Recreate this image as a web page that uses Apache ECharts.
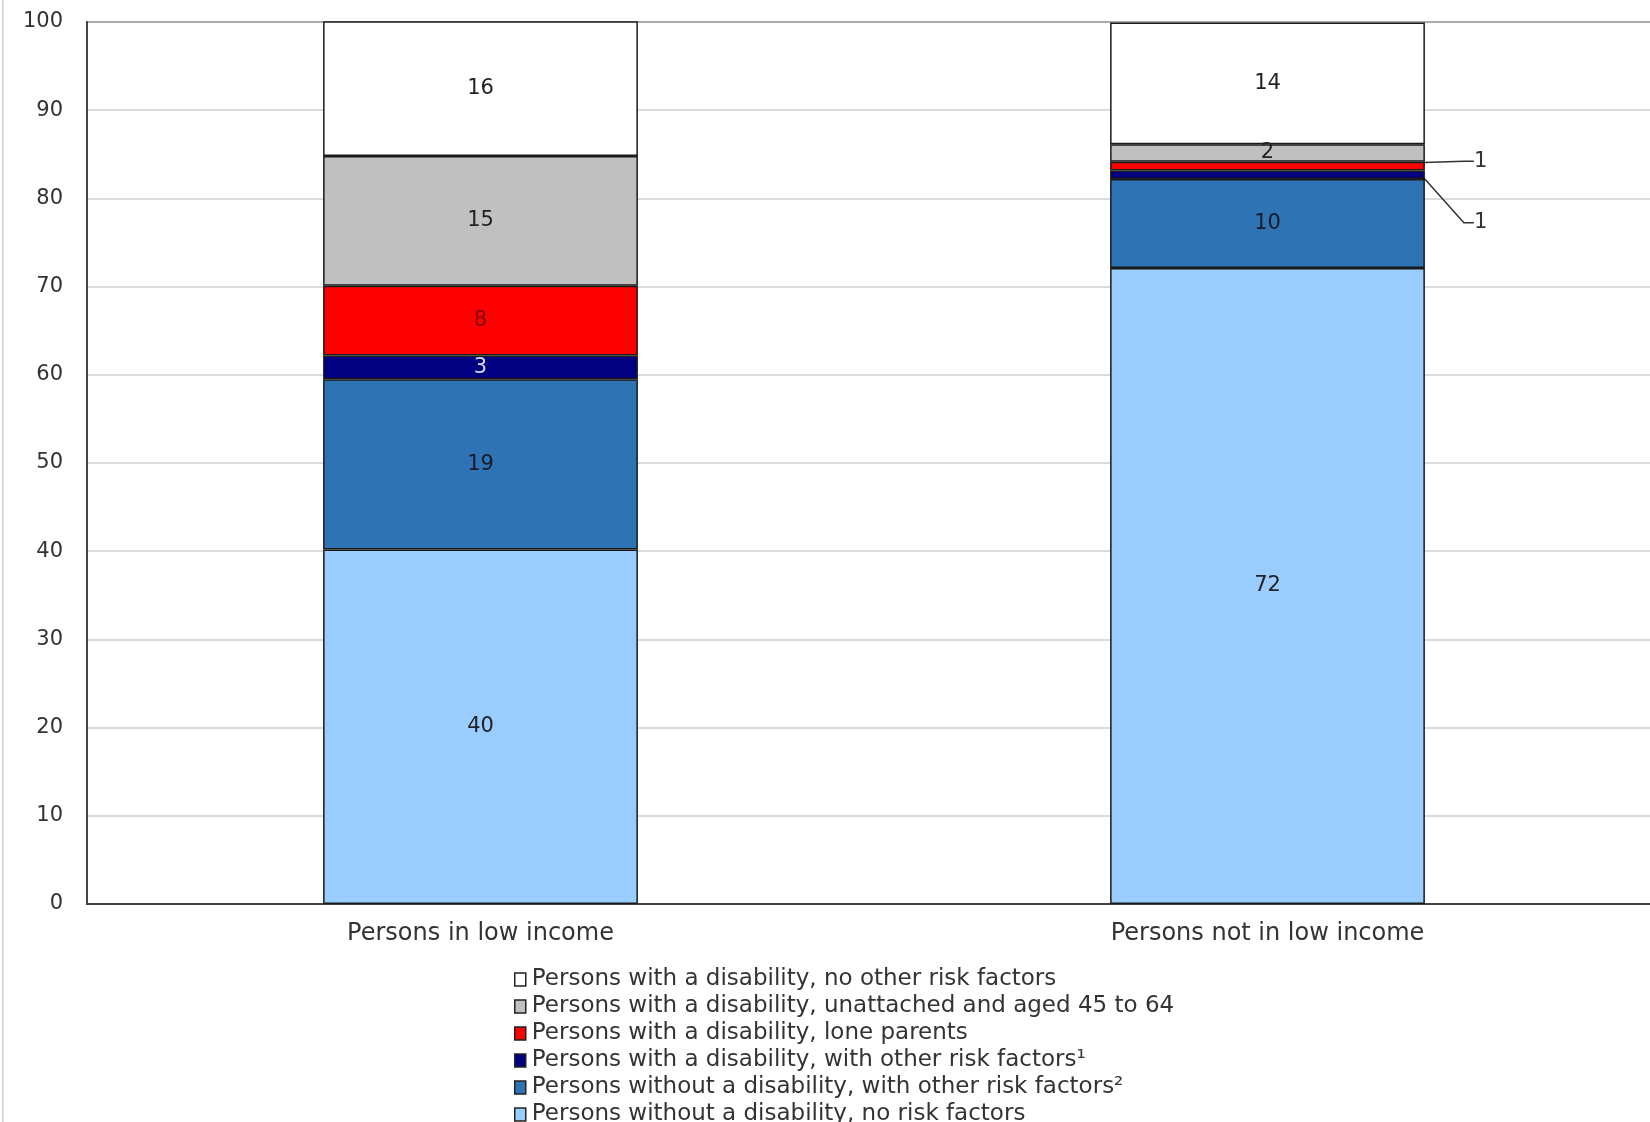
<!DOCTYPE html>
<html>
<head>
<meta charset="utf-8">
<script src="https://cdn.jsdelivr.net/npm/echarts@6/dist/echarts.min.js"></script>
<style>
html,body{margin:0;padding:0;background:#fff;}
#chart{width:1650px;height:1122px;}
</style>
</head>
<body>
<div id="chart"></div>
<script>
const categories = ['Persons in low income', 'Persons not in low income'];
const yTicks = [0, 10, 20, 30, 40, 50, 60, 70, 80, 90, 100];

const nameNoOther = 'Persons with a disability, no other risk factors';
const nameUnattached = 'Persons with a disability, unattached and aged 45 to 64';
const nameLone = 'Persons with a disability, lone parents';
const nameDisOther = 'Persons with a disability, with other risk factors\u00b9';
const nameNoDisOther = 'Persons without a disability, with other risk factors\u00b2';
const nameNoRisk = 'Persons without a disability, no risk factors';

// values, bottom of stack to top
const noRisk = [40.2, 72.1];
const noDisOther = [19.3, 10.1];
const disOther = [2.7, 0.95];
const loneParents = [7.9, 1.0];
const unattached = [14.7, 2.0];
const noOther = [15.6, 13.8];

const FONT = 'DejaVu Sans';

const chart = echarts.init(document.getElementById('chart'));

function makeSeries(name, values, color, labelColor, outsideShift) {
  return {
    name: name,
    type: 'bar',
    stack: 'total',
    barWidth: '40%',
    data: values.map(function (v, i) {
      if (outsideShift && outsideShift[i]) {
        return {
          value: v,
          label: { position: 'right', color: '#333' },
          labelLine: { show: true }
        };
      }
      return v;
    }),
    itemStyle: { color: color, borderColor: '#1a1a1a', borderWidth: 1.5 },
    label: {
      show: true,
      position: 'inside',
      color: labelColor,
      fontFamily: FONT,
      fontSize: 21,
      formatter: function (p) { return Math.round(p.value); }
    },
    labelLine: {
      show: false,
      length2: 10,
      lineStyle: { color: '#333', width: 1.5 }
    },
    labelLayout: function (p) {
      if (outsideShift && outsideShift[p.dataIndex]) {
        return { dx: outsideShift[p.dataIndex][0], dy: outsideShift[p.dataIndex][1] };
      }
      return {};
    },
    emphasis: { disabled: true }
  };
}

const option = {
  animation: false,
  backgroundColor: '#ffffff',
  textStyle: { fontFamily: FONT },
  graphic: [{
    type: 'rect',
    left: 2, top: 0,
    shape: { width: 1.5, height: 1122 },
    style: { fill: '#d0d0d0' },
    silent: true
  }],
  grid: {
    left: 87, top: 22, width: 1574, height: 882,
    show: true,
    borderColor: '#444',
    borderWidth: 2,
    containLabel: false,
    outerBoundsMode: 'none'
  },
  legend: {
    orient: 'vertical',
    left: 509,
    top: 963,
    height: 300,
    icon: 'rect',
    itemWidth: 11,
    itemHeight: 13,
    itemGap: 4,
    selectedMode: false,
    itemStyle: { borderColor: '#222', borderWidth: 1.5 },
    textStyle: { fontFamily: FONT, fontSize: 23, color: '#333', padding: [0, 0, 0, 1] },
    data: [nameNoOther, nameUnattached, nameLone, nameDisOther, nameNoDisOther, nameNoRisk]
  },
  xAxis: {
    type: 'category',
    data: categories,
    axisLine: { show: true, lineStyle: { color: '#444', width: 2 } },
    axisTick: { show: false },
    axisLabel: { fontFamily: FONT, fontSize: 24, color: '#333', margin: 18 },
    splitLine: { show: false }
  },
  yAxis: {
    type: 'value',
    min: yTicks[0],
    max: yTicks[yTicks.length - 1],
    interval: 10,
    axisLine: { show: true, lineStyle: { color: '#444', width: 2 } },
    axisTick: { show: false },
    axisLabel: { fontFamily: FONT, fontSize: 21, color: '#333', margin: 24 },
    splitLine: { show: true, lineStyle: { color: '#cfcfcf', width: 1.5 } }
  },
  series: [
    makeSeries(nameNoRisk, noRisk, '#99ccff', '#222'),
    makeSeries(nameNoDisOther, noDisOther, '#2e74b5', '#1a1a2a'),
    makeSeries(nameDisOther, disOther, '#000080', '#d8d8ff', [null, [44, 48]]),
    makeSeries(nameLone, loneParents, '#ff0000', '#7a0000', [null, [44, -5]]),
    makeSeries(nameUnattached, unattached, '#c0c0c0', '#222'),
    makeSeries(nameNoOther, noOther, '#ffffff', '#222')
  ]
};

chart.setOption(option);
</script>
</body>
</html>
